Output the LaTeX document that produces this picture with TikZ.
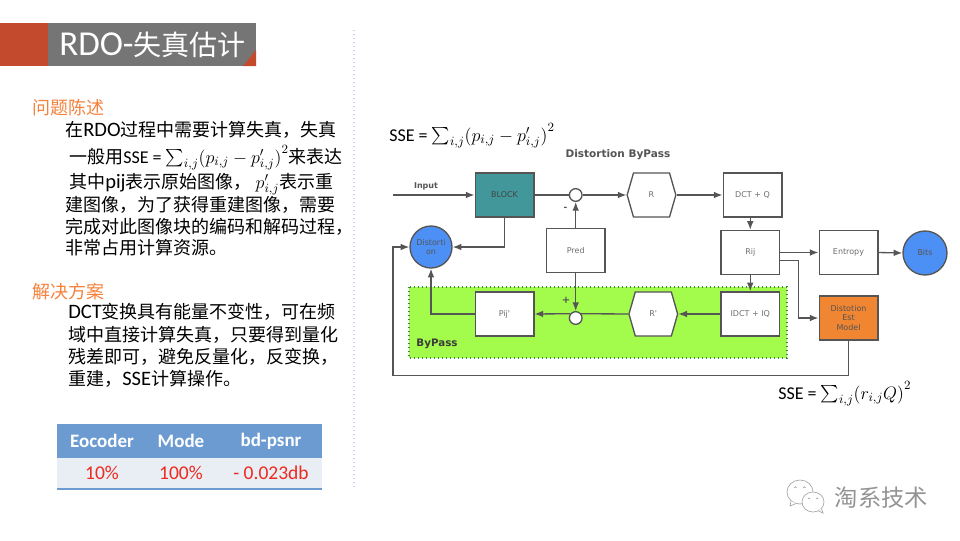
\RequirePackage{fix-cm}
\documentclass[tikz,border=0pt]{standalone}
\usepackage{fontspec}
\setmainfont{Carlito}
\newfontfamily\cjk{Noto Sans CJK SC}
\newfontfamily\diag{DejaVu Sans}
\usetikzlibrary{arrows.meta,shapes.symbols}
\newcommand{\px}[1]{\fontsize{\dimexpr #1pt*3/4\relax}{\dimexpr #1pt*9/10\relax}\selectfont}
\newcommand{\zb}[1]{{\cjk\px{18}#1}}
\newcommand{\lat}[1]{{\px{20.5}#1}}
\newcommand{\mysum}{\mathop{\vcenter{\hbox{\scalebox{1.3}{$\textstyle\sum$}}}}\nolimits}
\newcommand{\fm}[1]{\smash{\px{18}$#1$}}
\definecolor{redT}{HTML}{C44A2E}
\definecolor{grayT}{HTML}{757575}
\definecolor{orangeT}{HTML}{F4813C}
\definecolor{lineC}{HTML}{555555}
\definecolor{labelC}{HTML}{6E6E6E}
\definecolor{teal}{HTML}{41979A}
\definecolor{blueC}{HTML}{4D90F5}
\definecolor{orangeC}{HTML}{F08532}
\definecolor{greenC}{HTML}{A3FB4C}
\definecolor{sepC}{HTML}{C8D2EC}
\definecolor{headC}{HTML}{6C9BD2}
\definecolor{rowC}{HTML}{E9EDF4}
\definecolor{redV}{HTML}{EE2A1E}
\tikzset{
  box/.style={draw=lineC,line width=1pt,fill=white,minimum width=44pt,minimum height=33pt,inner sep=0pt,align=center,text=labelC,font=\diag\px{8}},
  hex/.style={draw=lineC,line width=1pt,fill=white,shape=signal,signal to=east and west,signal pointer angle=148,minimum width=36.5pt,minimum height=33pt,inner sep=0pt,text=labelC,font=\diag\px{8}},
  sumc/.style={circle,draw=lineC,line width=1pt,fill=white,minimum size=9.5pt,inner sep=0pt},
  conn/.style={draw=lineC,line width=1pt},
  arr/.style={conn,-{Latex[length=6.5pt,width=5pt]}},
  body/.style={anchor=base west,inner sep=0pt,font=\px{18},text=black},
  head/.style={anchor=base west,inner sep=0pt,font=\cjk\px{18},text=orangeT},
  formula/.style={anchor=base west,inner sep=0pt,font=\px{18},text=black},
  thead/.style={anchor=center,inner sep=0pt,font=\bfseries\px{19},text=white},
  tcell/.style={anchor=center,inner sep=0pt,font=\px{19.5},text=redV},
}
\begin{document}
\begin{tikzpicture}[x=0.75pt,y=-0.75pt]
\useasboundingbox (0,0) rectangle (960,540);
% title band
\fill[redT] (0,23) rectangle (48,66);
\fill[grayT] (48,23) rectangle (256,66);
\fill[redT] (256,50) -- (256,66) -- (243,66) -- cycle;
\node[anchor=base west,inner sep=0pt,text=white,font=\px{35}] (title) at (59,55) {RDO-{\cjk\px{28}失真估计}};
% separator
\draw[sepC,line width=1pt,dotted] (354,30) -- (354,490);
% left text
\node[head] (h1) at (32,114) {问题陈述};
\node[body] (l1) at (65,136) {\zb{在}\lat{RDO}\zb{过程中需要计算失真，失真}};
\node[body] (l2) at (69,163) {\zb{一般用}SSE = \fm{\mysum_{i,j}\bigl(p_{i,j}-p'_{i,j}\bigr)^{2}}\zb{来表达}};
\node[body] (l3) at (69,188) {\zb{其中}\lat{pij}\zb{表示原始图像，} \fm{p'_{i,j}}\zb{表示重}};
\node[body] (l4) at (65,211) {\zb{建图像，为了获得重建图像，需要}};
\node[body] (l5) at (65,233) {\zb{完成对此图像块的编码和解码过程，}};
\node[body] (l6) at (65,254) {\zb{非常占用计算资源。}};
\node[head] (h2) at (32,298) {解决方案};
\node[body] (s1) at (68,318) {\lat{DCT}\zb{变换具有能量不变性，可在频}};
\node[body] (s2) at (68,341) {\zb{域中直接计算失真，只要得到量化}};
\node[body] (s3) at (68,363) {\zb{残差即可，避免反量化，反变换，}};
\node[body] (s4) at (68,385) {\zb{重建，}\lat{SSE}\zb{计算操作。}};
% table
\fill[headC] (57,424) rectangle (322,458);
\fill[rowC] (57,458) rectangle (322,489);
\draw[headC,line width=1pt] (57,489) -- (322,489);
\node[thead] (t1) at (102,441) {Eocoder};
\node[thead] (t2) at (181,441) {Mode};
\node[thead] (t3) at (271,441) {bd-psnr};
\node[tcell] (c1) at (102,473) {10\%};
\node[tcell] (c2) at (181,473) {100\%};
\node[tcell] (c3) at (271,473) {- 0.023db};
% diagram
\node[formula] (f1) at (389,141) {SSE = \fm{\mysum_{i,j}\bigl(p_{i,j}-p'_{i,j}\bigr)^{2}}};
\node[inner sep=0pt,font=\diag\bfseries\px{10.5},text=lineC] (dtitle) at (618,155) {Distortion ByPass};
\fill[greenC] (409,287) rectangle (787,358);
\draw[lineC!70!green,line width=1pt,dotted] (409,287) rectangle (787,358);
\node[inner sep=0pt,font=\diag\bfseries\px{10.3},text=lineC!70!black] (bp) at (437,344) {ByPass};
\node[box,fill=teal,text=lineC!80!black] (block) at (504.5,195) {BLOCK};
\node[sumc] (s1c) at (575.7,195) {};
\node[hex] (r) at (651.5,195) {R};
\node[box] (dct) at (752.5,195) {DCT + Q};
\node[box] (pred) at (575.7,250.5) {Pred};
\node[circle,draw=lineC,line width=1pt,fill=blueC,minimum size=31.5pt,inner sep=0pt,align=center,text=lineC,font=\diag\px{8}] (dist) at (431,247) {Distorti\\on};
\node[box] (rij) at (750.25,252.5) {Rij};
\node[box] (ent) at (848.5,252.5) {Entropy};
\node[circle,draw=lineC,line width=1pt,fill=blueC,minimum size=33pt,inner sep=0pt,text=lineC,font=\diag\px{8}] (bits) at (925,253) {Bits};
\node[box] (idct) at (750.25,314) {IDCT + IQ};
\node[hex] (rp) at (653.3,314) {R'};
\node[sumc] (s2c) at (575.7,318) {};
\node[box] (pij) at (504.5,314) {Pij'};
\node[box,fill=orangeC,text=lineC] (est) at (848.5,318) {Distotion\\Est\\Model};
\node[inner sep=0pt,font=\diag\bfseries\px{8},text=lineC] (inlab) at (426,186) {Input};
\node[inner sep=0pt,font=\diag\bfseries\px{9},text=lineC] (minus) at (565.5,209) {-};
\node[inner sep=0pt,font=\diag\bfseries\px{10},text=lineC] (plus) at (566,300) {+};
\coordinate (inp) at (393,195);
\coordinate (lb) at (393,375.5);
\coordinate (rijlow) at (779.5,260.7);
\draw[arr] (inp) -- (block.west);
\draw[conn] (block.east) -- (s1c.west);
\draw[arr] (s1c.east) -- (r.west);
\draw[arr] (r.east) -- (dct.west);
\draw[arr] (rij |- dct.south) -- (rij.north);
\draw[arr] (rij.east) -- (ent.west);
\draw[arr] (ent.east) -- (bits.west);
\draw[arr] (rij.south) -- (idct.north);
\draw[arr] (rijlow) -- (798.7,260.7) |- (est.west);
\draw[arr] (idct.west) -- (rp.east);
\draw[conn] (rp.west) -- (s2c.38);
\draw[arr] (s2c.142) -- (pij.east);
\draw[arr] (pred.north) -- (s1c.south);
\draw[arr] (pred.south) -- (s2c.north);
\draw[arr] (pij.west) -| (dist.south);
\draw[arr] (block.south) |- (dist.east);
\draw[arr] (est.south) |- (lb) |- (dist.west);
\node[formula] (f2) at (778,399) {SSE = \fm{\mysum_{i,j}\bigl(r_{i,j}Q\bigr)^{2}}};
% watermark
\begin{scope}[draw=gray!70,line width=0.5pt]
\draw[fill=white] (800,492) ellipse (13 and 12);
\draw[fill=white] (791,501) -- (790,506) -- (796,503.5);
\draw (794,488) arc (180:360:1.3) (803,488) arc (180:360:1.3);
\draw[fill=white] (813,502) ellipse (11 and 10);
\draw[fill=white] (818,510.5) -- (823,513) -- (821.5,508.5);
\draw (808,499) arc (180:360:1.1) (816,499) arc (180:360:1.1);
\end{scope}
\node[anchor=center,inner sep=0pt,font=\cjk\px{23.3},text=gray!85] (wm) at (881.5,498) {淘系技术};
\end{tikzpicture}
\end{document}
